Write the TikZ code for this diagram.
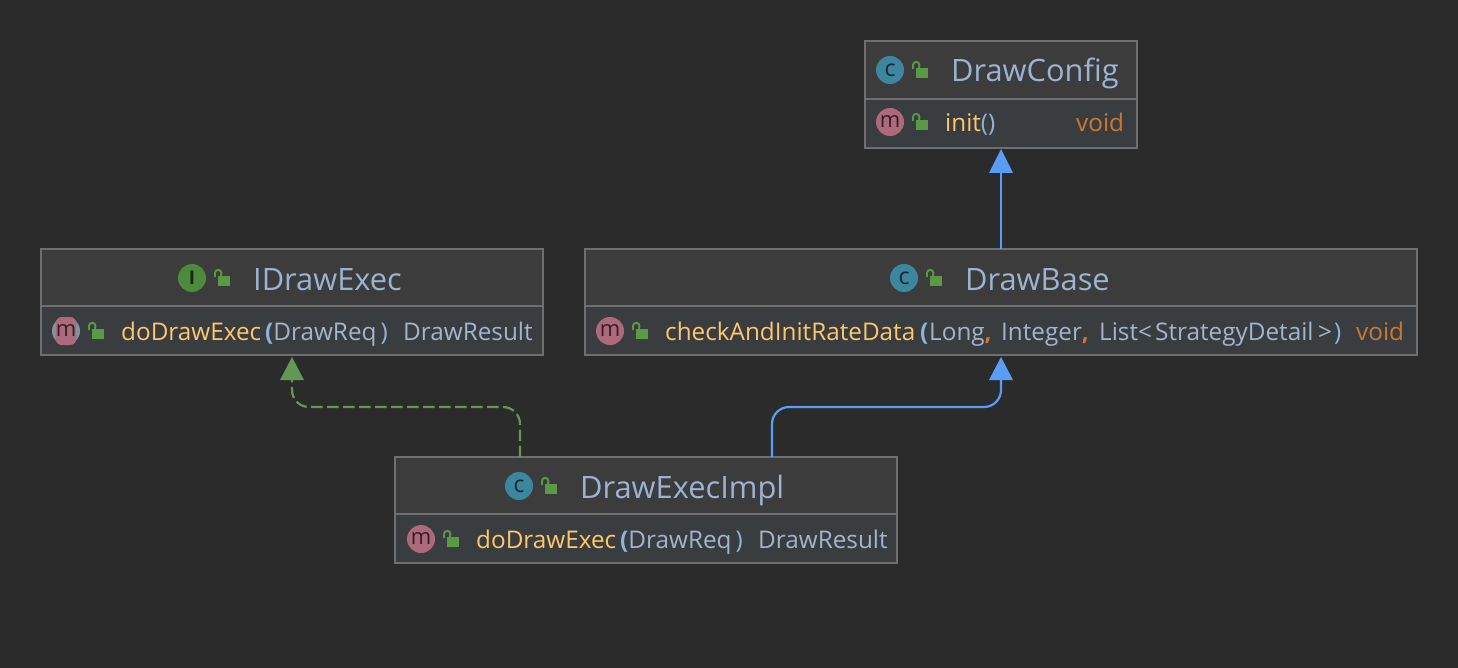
\documentclass[tikz,border=0pt]{standalone}
\usepackage{fontspec}
\setmainfont{Open Sans}
\usetikzlibrary{arrows.meta,calc,backgrounds}
\definecolor{bgc}{HTML}{2B2B2B}
\definecolor{headc}{HTML}{3C3C3C}
\definecolor{bodyc}{HTML}{3A3D40}
\definecolor{edgec}{HTML}{6F6F6F}
\definecolor{titlec}{HTML}{9BB4D3}
\definecolor{typec}{HTML}{A2B5CC}
\definecolor{parenc}{HTML}{8FB4DA}
\definecolor{methodc}{HTML}{FFC66D}
\definecolor{retc}{HTML}{CC7832}
\definecolor{cicon}{HTML}{3E86A0}
\definecolor{micon}{HTML}{AC6A7C}
\definecolor{iicon}{HTML}{4E8A3C}
\definecolor{lockc}{HTML}{5A9A45}
\definecolor{greyicon}{HTML}{86929C}
\definecolor{blueline}{HTML}{589DF6}
\definecolor{greenline}{HTML}{629755}
\tikzset{
  x=1pt,y=-1pt,
  rule/.style={edgec,line width=2pt},
  title/.style={anchor=base west,inner sep=0pt,text=titlec,font=\fontsize{30.8}{32}\selectfont},
  member/.style={anchor=base west,inner sep=0pt,font=\fontsize{24.3}{28}\selectfont},
  icon/.style={circle,minimum size=28pt,inner sep=0pt,fill=#1,text=black!70!#1},
  lockpart/.style={fill=lockc,draw=none},
  boxline/.style={draw=edgec,line width=2pt,fill=bodyc},
  extends/.style={blueline,line width=2.2pt,rounded corners=17pt},
  implements/.style={greenline,line width=2.2pt,rounded corners=17pt,dash pattern=on 11.5pt off 4.5pt},
  tipblue/.style={fill=blueline,draw=none},
  tipgreen/.style={fill=greenline,draw=none},
}
\newcommand{\lockat}[2]{%
  \fill[lockpart] (#1-4,#2-2) rectangle (#1+8,#2+8);
  \draw[lockc,line width=1.9pt] (#1-7,#2-1) -- (#1-7,#2-5) arc[start angle=180,end angle=0,x radius=3.2,y radius=-3.2] -- (#1-1,#2-2);
}
\newcommand{\C}[2]{\textcolor{#1}{#2}}
\newcommand{\cglyph}{\fontsize{23}{23}\selectfont c}
\newcommand{\mglyph}{\fontsize{22}{22}\selectfont m}
\begin{document}
\begin{tikzpicture}
\useasboundingbox (0,0) rectangle (1458,668);
\fill[bgc] (0,0) rectangle (1458,668);

% DrawConfig
\path[boxline] (865,41) rectangle (1137,148);
\fill[headc] (866,42) rectangle (1136,98);
\draw[rule] (865,99) -- (1137,99);
\coordinate (cfgTop) at (1001,149);
\node[icon=cicon] (cfgC) at (890,70) {\cglyph};
\lockat{920}{70}
\node[title] (cfgT) at (951,82) {DrawConfig};
\node[icon=micon] (cfgM) at (890,122) {\mglyph};
\lockat{920}{122}
\node[member] (cfgI) at (945,132) {\C{methodc}{init}\C{parenc}{()}};
\node[member,text=retc] (cfgR) at (1076,132) {void};

% IDrawExec
\path[boxline] (41,249) rectangle (543,355);
\fill[headc] (42,250) rectangle (542,305);
\draw[rule] (41,306) -- (543,306);
\node[icon=iicon] (ifC) at (192,278) {\fontsize{19}{19}\selectfont\textbf{I}};
\lockat{222}{278}
\node[title] (ifT) at (253,290) {IDrawExec};
\node[circle,minimum size=28pt,inner sep=0pt,fill=greyicon] (ifG) at (66,331) {};
\node[rounded corners=6pt,minimum width=18pt,minimum height=28pt,inner sep=0pt,fill=micon,text=black!70!micon] (ifM) at (66,331) {\mglyph};
\lockat{96}{331}
\node[member] (ifN) at (121,340) {\C{methodc}{doDrawExec}};
\node[member] (ifA) at (265,340) {\C{parenc}{\textbf{(}}\C{typec}{DrawReq}\C{parenc}{\,)}};
\node[member,text=typec] (ifR) at (403,340) {DrawResult};

% DrawBase
\path[boxline] (585,249) rectangle (1417,355);
\fill[headc] (586,250) rectangle (1416,305);
\draw[rule] (585,306) -- (1417,306);
\node[icon=cicon] (baseC) at (904,278) {\cglyph};
\lockat{934}{278}
\node[title] (baseT) at (965,290) {DrawBase};
\node[icon=micon] (baseM) at (610,331) {\mglyph};
\lockat{640}{331}
\node[member] (baseN) at (665,340) {\C{methodc}{checkAndInitRateData}};
\node[member] (baseP) at (920,340) {\C{parenc}{\textbf{(}}};
\node[member] (baseL) at (929,340) {\C{typec}{Long}\C{retc}{\textbf{,}}};
\node[member] (baseI) at (1001,340) {\C{typec}{Integer}\C{retc}{\textbf{,}}};
\node[member] (baseS) at (1099,340) {\C{typec}{List}};
\node[member] (baseLt) at (1138,340) {\C{typec}{<}};
\node[member] (baseD) at (1155,340) {\C{typec}{StrategyDetail}};
\node[member] (baseGt) at (1318,340) {\C{typec}{>}};
\node[member] (baseQ) at (1334,340) {\C{parenc}{)}};
\node[member,text=retc] (baseR) at (1356,340) {void};

% DrawExecImpl
\path[boxline] (395,457) rectangle (897,563);
\fill[headc] (396,458) rectangle (896,513);
\draw[rule] (395,514) -- (897,514);
\node[icon=cicon] (implC) at (519,486) {\cglyph};
\lockat{549}{486}
\node[title] (implT) at (580,498) {DrawExecImpl};
\node[icon=micon] (implM) at (421,539) {\mglyph};
\lockat{451}{539}
\node[member] (implN) at (476,548) {\C{methodc}{doDrawExec}};
\node[member] (implA) at (620,548) {\C{parenc}{\textbf{(}}\C{typec}{DrawReq}\C{parenc}{\,)}};
\node[member,text=typec] (implR) at (758,548) {DrawResult};

% connector end points
\coordinate (baseTop) at (1001,249);
\coordinate (baseTipB) at (1001,172);
\coordinate (baseIn) at (1001,357);
\coordinate (baseInB) at (1001,380);
\coordinate (ifIn) at (292,357);
\coordinate (ifInB) at (292,380);
\coordinate (implA1) at (772,457);
\coordinate (implA2) at (520,457);

% DrawBase -> DrawConfig
\draw[extends] (baseTop) -- (baseTipB);
\fill[tipblue] (cfgTop) -- ($(baseTipB)+(-12,1)$) -- ($(baseTipB)+(12,1)$) -- cycle;

% DrawExecImpl -> DrawBase
\draw[extends] (implA1) -- (772,407) -- (1001,407) -- (baseInB);
\fill[tipblue] (baseIn) -- ($(baseInB)+(-12,0)$) -- ($(baseInB)+(12,0)$) -- cycle;

% DrawExecImpl ..> IDrawExec
\draw[implements] (implA2) -- (520,407) -- (292,407) -- (ifInB);
\fill[tipgreen] (ifIn) -- ($(ifInB)+(-12,0)$) -- ($(ifInB)+(12,0)$) -- cycle;
\end{tikzpicture}
\end{document}
